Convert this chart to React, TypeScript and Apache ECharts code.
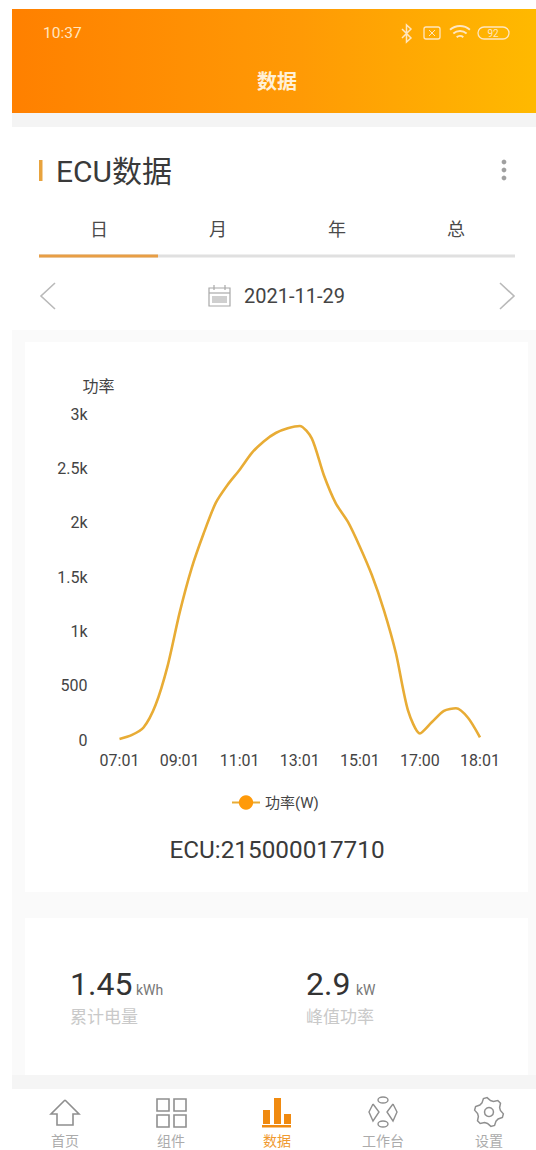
import React, { useEffect, useRef } from "react";
import * as echarts from "echarts";

const categories = [
  "07:01","07:25","07:49","08:13","08:37","09:01","09:25","09:49","10:13","10:37","11:01",
  "11:25","11:49","12:13","12:37","13:01","13:25","13:49","14:13","14:37","15:01",
  "15:25","15:49","16:13","16:37","17:00","17:12","17:24","17:36","17:48","18:01",
];
const powerValues = [
  10,45,115,322,680,1170,1580,1900,2180,2349,2487,
  2640,2748,2825,2868,2890,2776,2439,2178,2009,1779,
  1518,1196,800,276,60,165,268,292,205,25,
];
const yTicks = { max: 3000, step: 500 };
const seriesName = "功率(W)";
const yName = "功率";
const tabs = ["日", "月", "年", "总"];
const navItems = ["首页", "组件", "数据", "工作台", "设置"];
const dateText = "2021-11-29";
const ecuText = "ECU:215000017710";

const LATIN = 'Roboto, "Noto Sans CJK SC", sans-serif';
const txt = (x: number, y: number, text: string, size: number, fill: string, align = "left", weight: any = "normal") => ({
  type: "text", x, y,
  style: { text, fontSize: size, fill, align, verticalAlign: "middle", fontFamily: LATIN, fontWeight: weight },
});
const rect = (x: number, y: number, w: number, h: number, fill: string, r = 0) => ({
  type: "rect", shape: { x, y, width: w, height: h, r }, style: { fill },
});
const orect = (x: number, y: number, w: number, h: number, stroke: string, lw = 1.5, r = 0) => ({
  type: "rect", shape: { x, y, width: w, height: h, r }, style: { fill: "none", stroke, lineWidth: lw },
});
const pline = (points: number[][], stroke: string, lw = 1.5) => ({
  type: "polyline", shape: { points }, style: { fill: "none", stroke, lineWidth: lw },
});
const arc = (cx: number, cy: number, r: number, a: number, b: number, stroke: string, lw = 1.5) => ({
  type: "arc", shape: { cx, cy, r, startAngle: a, endAngle: b }, style: { fill: "none", stroke, lineWidth: lw },
});
const circ = (cx: number, cy: number, r: number, fill: string) => ({
  type: "circle", shape: { cx, cy, r }, style: { fill },
});
const ocirc = (cx: number, cy: number, r: number, stroke: string, lw = 1.5) => ({
  type: "circle", shape: { cx, cy, r }, style: { fill: "none", stroke, lineWidth: lw },
});

function gearPoints(cx: number, cy: number) {
  const pts: number[][] = [];
  for (let i = 0; i < 24; i++) {
    const a = (i / 24) * Math.PI * 2 + 0.13;
    const r = i % 4 === 0 || i % 4 === 1 ? 14.5 : 11.5;
    pts.push([cx + r * Math.cos(a), cy + r * Math.sin(a)]);
  }
  return pts;
}

function shell() {
  const status = "#FFE6C0";
  const line = "#8f8f8f";
  const els: any[] = [
    rect(12, 113, 524, 1037, "#fafafa"),
    {
      type: "rect", shape: { x: 12, y: 9, width: 524, height: 104 },
      style: { fill: new echarts.graphic.LinearGradient(0, 0, 1, 0, [
        { offset: 0, color: "#FF8000" }, { offset: 0.55, color: "#FF9A05" }, { offset: 1, color: "#FFB900" },
      ]) },
    },
    rect(12, 113, 524, 14, "#f4f4f4"),
    rect(12, 127, 524, 203, "#ffffff"),
    rect(25, 342, 503, 550, "#ffffff"),
    rect(25, 918, 503, 157, "#ffffff"),
    rect(12, 1075, 524, 14, "#f5f5f5"),
    rect(12, 1089, 524, 61, "#ffffff"),

    txt(43, 33, "10:37", 15.5, status),
    txt(277, 82, "数据", 20, "#FFF0D8", "center", "bold"),
    // status icons
    pline([[402, 29], [411, 38], [406.5, 42], [406.5, 25], [411, 29], [402, 38]], status, 1.5),
    orect(424, 27, 16, 12, status, 1.3, 2),
    pline([[429, 30], [435, 36]], status, 1), pline([[435, 30], [429, 36]], status, 1),
    arc(460, 41, 15, -2.3, -0.85, status, 1.9),
    arc(460, 41, 10, -2.3, -0.85, status, 1.9),
    arc(460, 41, 5, -2.3, -0.85, status, 1.9),
    orect(478, 27, 31, 12, status, 1.3, 6),
    txt(493, 33, "92", 10, status, "center"),

    // title row
    rect(39, 160, 3.5, 21, "#E8A33D"),
    txt(56, 171, "ECU数据", 30, "#3a3a3a"),
    circ(504, 162, 2.4, "#a0a0a0"), circ(504, 170, 2.4, "#a0a0a0"), circ(504, 178, 2.4, "#a0a0a0"),

    // tabs
    ...tabs.map((t, i) => txt(99 + i * 119, 229, t, 18, "#4a4a4a", "center")),
    rect(39, 254.5, 476, 3, "#e0e0e0"),
    rect(39, 254.5, 119, 3, "#E89E45"),

    // date row
    pline([[55, 283], [41, 296], [55, 309]], "#b9b9b9", 1.6),
    pline([[500, 283], [514, 296], [500, 309]], "#b9b9b9", 1.6),
    orect(209, 288, 21, 18, "#a8a8a8", 1.2),
    pline([[209, 293], [230, 293]], "#a8a8a8", 1.2),
    pline([[214, 285], [214, 290]], "#a8a8a8", 1.2),
    pline([[225, 285], [225, 290]], "#a8a8a8", 1.2),
    rect(212, 296, 15, 7, "#cfcfcf"),
    txt(244, 296, dateText, 20, "#444444"),

    txt(277, 849, ecuText, 24.3, "#3a3a3a", "center"),

    txt(70, 984, "1.45", 32, "#333333"),
    txt(136, 990, "kWh", 14, "#777777"),
    txt(70, 1017, "累计电量", 17, "#c9c9c9"),
    txt(306, 984, "2.9", 32, "#333333"),
    txt(356, 990, "kW", 14, "#777777"),
    txt(306, 1017, "峰值功率", 17, "#c9c9c9"),

    // nav icons
    pline([[65, 1100], [79, 1114], [73, 1114], [73, 1125], [57, 1125], [57, 1114], [51, 1114], [65, 1100]], line, 1.6),
    orect(157, 1099, 12, 12, line, 1.6), orect(174, 1099, 12, 12, line, 1.6),
    orect(157, 1115, 12, 12, line, 1.6), orect(174, 1115, 12, 12, line, 1.6),
    rect(263, 1110, 7, 14, "#F08A10"), rect(274, 1098, 7, 26, "#F08A10"), rect(284, 1114, 7, 10, "#F08A10"),
    rect(262, 1125, 29, 2.5, "#F08A10"),
    pline([[373, 1104], [369, 1112], [373, 1121], [379, 1112], [373, 1104]], line, 1.4),
    pline([[393, 1104], [397, 1112], [393, 1121], [387, 1112], [393, 1104]], line, 1.4),
    { type: "ellipse", shape: { cx: 383, cy: 1100, rx: 5, ry: 3 }, style: { fill: "none", stroke: line, lineWidth: 1.4 } },
    { type: "ellipse", shape: { cx: 383, cy: 1124, rx: 5, ry: 3 }, style: { fill: "none", stroke: line, lineWidth: 1.4 } },
    { type: "polygon", shape: { points: gearPoints(489, 1112) }, style: { fill: "none", stroke: line, lineWidth: 1.5 } },
    ocirc(489, 1112, 4.5, line, 1.5),

    ...navItems.map((t, i) =>
      txt(65 + i * 106, 1141, t, 14, i === 2 ? "#F09A30" : "#ababab", "center")),
  ];
  return els;
}

export default function App() {
  const ref = useRef<HTMLDivElement>(null);
  useEffect(() => {
    const chart = echarts.init(ref.current!, undefined, { renderer: "svg" });
    chart.setOption({
      animation: false,
      backgroundColor: "#ffffff",
      textStyle: { fontFamily: LATIN },
      graphic: { elements: shell() },
      grid: { left: 119.5, right: 56, top: 414, height: 326 },
      legend: {
        show: true,
        left: 226,
        top: 790,
        itemWidth: 28,
        itemHeight: 18,
        itemGap: 4,
        data: [seriesName],
        textStyle: { color: "#444444", fontSize: 15, fontFamily: LATIN },
      },
      xAxis: {
        type: "category",
        z: 3,
        boundaryGap: false,
        data: categories,
        axisLine: { show: false },
        axisTick: { show: false },
        splitLine: { show: false },
        axisLabel: { interval: 4, color: "#444444", fontSize: 16, margin: 12, fontFamily: LATIN, hideOverlap: false, showMinLabel: true, showMaxLabel: true },
      },
      yAxis: {
        type: "value",
        z: 3,
        min: 0,
        max: yTicks.max,
        interval: yTicks.step,
        name: yName,
        nameLocation: "end",
        nameGap: 20,
        nameTextStyle: { color: "#444444", fontSize: 16, align: "center", padding: [0, 0, 0, -42] },
        axisLine: { show: false },
        axisTick: { show: false },
        splitLine: { show: false },
        axisLabel: {
          color: "#444444", fontSize: 16, margin: 32, fontFamily: LATIN,
          formatter: (v: number) => (v >= 1000 ? v / 1000 + "k" : String(v)),
        },
      },
      series: [
        {
          name: seriesName,
          type: "line",
          data: powerValues,
          smooth: 0.25,
          showSymbol: false,
          symbol: "circle",
          symbolSize: 14,
          itemStyle: { color: "#FF9A0A" },
          lineStyle: { color: "#E8AC35", width: 2.6 },
        },
      ],
    });
    return () => chart.dispose();
  }, []);
  return <div ref={ref} style={{ position: "absolute", left: 0, top: 0, width: 536, height: 1150 }} />;
}
